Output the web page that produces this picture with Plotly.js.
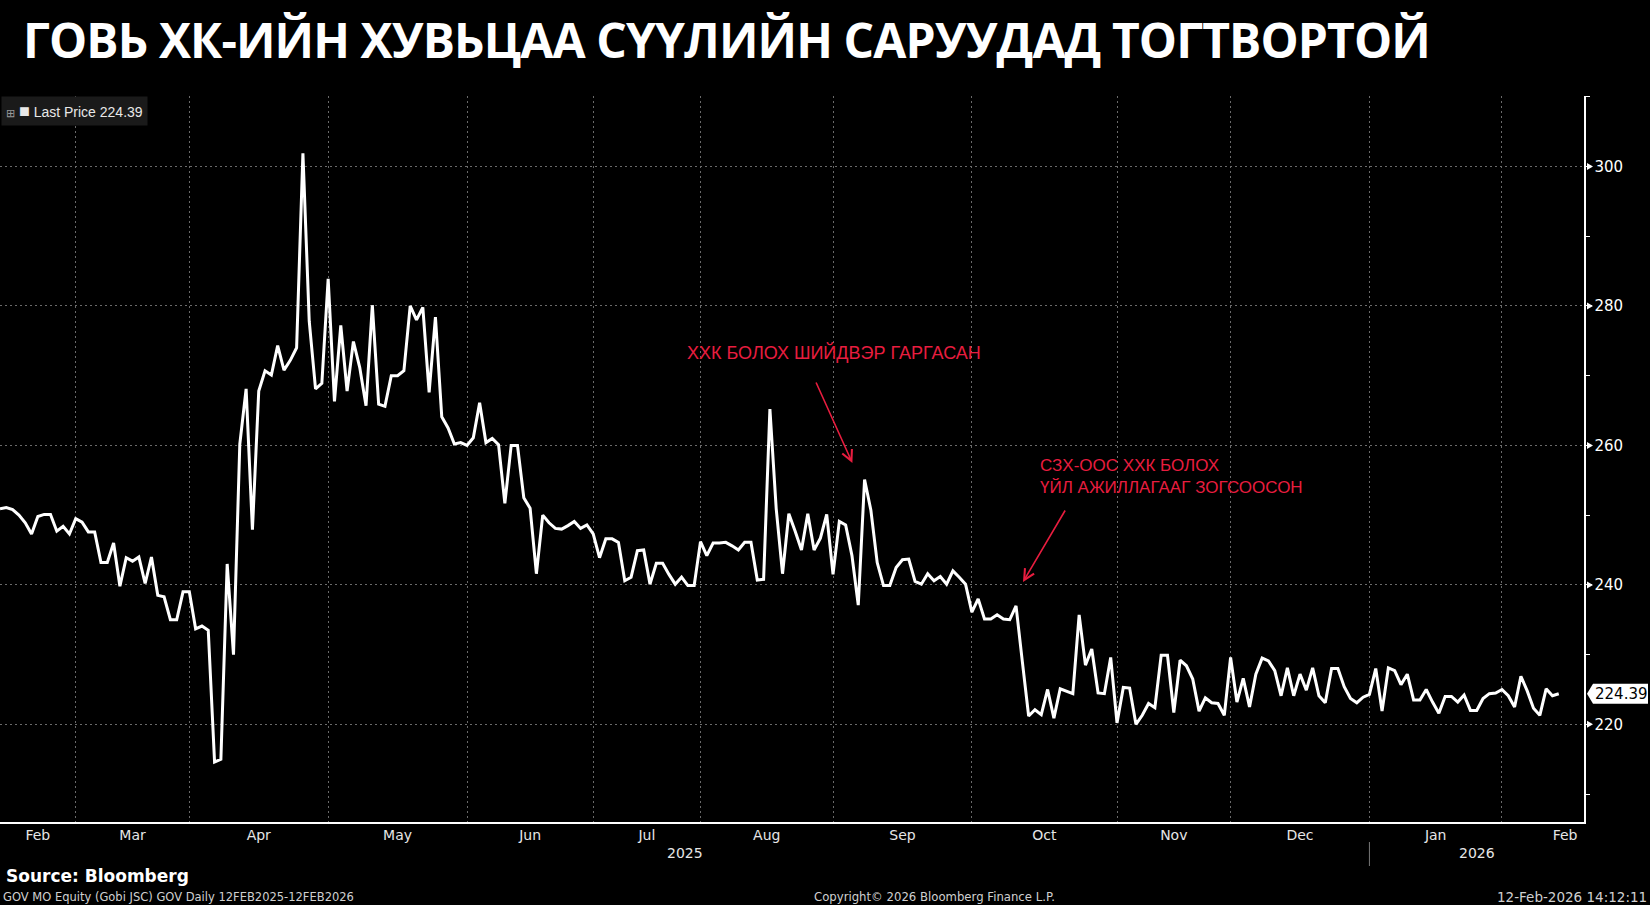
<!DOCTYPE html>
<html>
<head>
<meta charset="utf-8">
<script src="https://cdn.plot.ly/plotly-3.0.1.min.js"></script>
<style>
  html, body { margin: 0; padding: 0; background: #000; }
  #chart { width: 1650px; height: 905px; }
  #chart .gtitle { letter-spacing: -0.9px; }
</style>
</head>
<body>
<div id="chart"></div>
<script>
// ---- data (GOV MO Equity, daily last price, one value per trading session) ----
const prices = [
  250.9, 251.1, 250.8, 250.0, 248.9, 247.3, 249.8, 250.1, 250.1, 247.7,
  248.4, 247.3, 249.5, 249.0, 247.6, 247.6, 243.2, 243.2, 246.0, 239.8,
  243.9, 243.4, 244.0, 240.2, 244.0, 238.5, 238.3, 235.0, 235.0, 239.0,
  239.0, 233.7, 234.1, 233.5, 214.6, 215.0, 243.0, 230.0, 260.2, 268.1,
  247.9, 267.8, 270.7, 270.1, 274.3, 270.8, 272.2, 274.0, 301.9, 277.8,
  268.1, 268.9, 283.9,
  266.3, 277.2, 267.8, 274.9, 271.2, 265.7, 280.1, 265.9, 265.6, 270.0,
  270.0, 270.7, 280.0, 278.0, 279.8, 267.6, 278.4, 264.1, 262.5, 260.2,
  260.4, 260.0, 261.1, 266.1, 260.4, 261.0, 260.1, 251.7, 260.0, 260.0,
  252.5, 251.0, 241.6, 250.0, 248.9, 248.1, 248.0, 248.5, 249.1, 248.1,
  248.6, 247.3, 243.9, 246.6, 246.6, 246.1, 240.6, 241.1, 244.9, 245.0,
  240.1,
  243.1, 243.1, 241.5, 240.1, 241.1, 239.9, 239.9, 246.2, 244.2, 246.0,
  246.0, 246.1, 245.6, 245.0, 246.1, 246.1, 240.7, 240.8, 265.2, 250.9,
  241.6, 250.2, 247.7, 245.0, 250.2, 245.0, 246.7, 250.1, 241.5, 249.1,
  248.6, 244.2, 237.1, 255.1, 250.7, 243.2, 239.9, 239.9, 242.5, 243.6,
  243.7, 240.5, 240.1, 241.6, 240.6, 241.2, 240.1, 242.0, 241.1, 240.1,
  236.1, 238.0, 235.1, 235.1, 235.7, 235.1, 235.0, 237.0, 229.0, 221.2,
  222.1, 221.4, 225.0, 220.9, 225.1, 224.8, 224.4, 235.7, 228.5, 230.8,
  224.5, 224.4, 229.6, 220.2,
  225.3, 225.2, 220.0, 221.3, 223.0, 222.4, 229.9, 229.9, 221.7, 229.2,
  228.4, 226.5, 221.9, 223.8, 223.1, 223.0, 221.3, 229.6,
  223.2, 226.6, 222.5, 227.2, 229.5, 229.1, 227.7, 224.1, 228.1, 224.1,
  227.2, 224.9, 228.1, 224.1, 223.1, 228.0, 228.0, 225.4, 223.7, 223.1,
  223.9, 224.3,
  228.0, 221.9, 228.1, 227.7, 225.7, 227.2, 223.5, 223.5, 225.0, 223.2,
  221.6, 224.0, 224.0, 223.2, 224.2, 222.0, 222.0, 223.7, 224.4, 224.5,
  225.0,
  224.1, 222.5, 226.9, 224.8, 222.3, 221.3, 225.1, 224.1, 224.39
];
// trading-session number of each price
const sessions = prices.map((_, i) => i);

// month labels (centred in each month) and month starts (session numbers)
const monthNames   = ['Feb', 'Mar', 'Apr', 'May', 'Jun', 'Jul', 'Aug', 'Sep', 'Oct', 'Nov', 'Dec', 'Jan', 'Feb'];
const monthLabelAt = [6, 21, 41, 63, 84, 102.5, 121.5, 143, 165.5, 186, 206, 227.5, 248];
const monthStartAt = [12, 30, 52, 74, 94, 111, 132, 154, 177, 195, 217, 238];
const yearNames    = ['2025', '2026'];
const yearLabelAt  = [108.5, 234];
const yearBreakAt  = [217];
const yTicks       = [220, 240, 260, 280, 300];

const titleText   = 'ГОВЬ ХК-ИЙН ХУВЬЦАА СҮҮЛИЙН САРУУДАД ТОГТВОРТОЙ';
const note1       = 'ХХК БОЛОХ ШИЙДВЭР ГАРГАСАН';
const note2       = 'СЗХ-ООС ХХК БОЛОХ<br>ҮЙЛ АЖИЛЛАГААГ ЗОГСООСОН';
const seriesName  = 'Last Price';
const sourceText  = 'Source: Bloomberg';
const footLeft    = 'GOV MO Equity (Gobi JSC) GOV Daily 12FEB2025-12FEB2026';
const footMid     = 'Copyright© 2026 Bloomberg Finance L.P.';
const footRight   = '12-Feb-2026 14:12:11';

// ---- layout helpers ----
const W = 1650, H = 905;
const M = {l: 0, r: 66, t: 96, b: 83};
const PW = W - M.l - M.r, PH = H - M.t - M.b;
const px = X => (X - M.l) / PW;
const py = Y => (H - M.b - Y) / PH;

const last = prices[prices.length - 1];
const RED = '#e81d3f';
const GRID = '#6a6a6a';

const trace = {
  x: sessions, y: prices, type: 'scatter', mode: 'lines',
  name: seriesName,
  line: {color: '#ffffff', width: 3},
  hoverinfo: 'skip'
};

const shapes = [];
yearBreakAt.forEach(v => shapes.push({
  type: 'line', xref: 'x', yref: 'paper', x0: v, x1: v, y0: py(842), y1: py(866),
  line: {color: '#777', width: 1}
}));
yTicks.forEach(v => shapes.push({
  type: 'path', xref: 'paper', yref: 'y', xsizemode: 'pixel', ysizemode: 'pixel',
  xanchor: 1, yanchor: v, path: 'M 3,-3.5 L 9,0 L 3,3.5 Z',
  fillcolor: '#fff', line: {width: 0}
}));
shapes.push({
  type: 'path', xref: 'paper', yref: 'y', xsizemode: 'pixel', ysizemode: 'pixel',
  xanchor: 1, yanchor: last, path: 'M 3,0 L 9,10 L 64,10 L 64,-10 L 9,-10 Z',
  fillcolor: '#fff', line: {width: 0}
});

const annotations = [
  {
    xref: 'paper', yref: 'paper', x: px(1), y: py(96), xanchor: 'left', yanchor: 'top',
    text: '<span style="font-size:11px;color:#9a9a9a">⊞</span> <span style="font-size:18px">■</span> ' + seriesName + ' ' + last.toFixed(2),
    showarrow: false, bgcolor: '#1a1a1a', borderpad: 4,
    font: {family: 'Liberation Sans, Arial, sans-serif', size: 14, color: '#e8e8e8'}
  },
  {
    xref: 'paper', yref: 'paper', x: px(834), y: py(352.5), xanchor: 'center', yanchor: 'middle',
    text: note1, showarrow: false,
    font: {family: 'Liberation Sans, Arial, sans-serif', size: 18, color: RED}
  },
  {
    xref: 'paper', yref: 'paper', x: px(852.4), y: py(463), text: '', showarrow: true,
    ax: -37, ay: -82, arrowhead: 5, arrowsize: 1.3, arrowwidth: 1.6, arrowcolor: RED, standoff: 0
  },
  {
    xref: 'paper', yref: 'paper', x: px(1038), y: py(477), xanchor: 'left', yanchor: 'middle',
    text: note2, align: 'left', showarrow: false,
    font: {family: 'Liberation Sans, Arial, sans-serif', size: 17, color: RED}
  },
  {
    xref: 'paper', yref: 'paper', x: px(1023), y: py(582), text: '', showarrow: true,
    ax: 43, ay: -73, arrowhead: 5, arrowsize: 1.3, arrowwidth: 1.6, arrowcolor: RED, standoff: 0
  },
  {
    xref: 'paper', yref: 'y', x: 1, y: last, xanchor: 'left', yanchor: 'middle', xshift: 9,
    text: last.toFixed(2), showarrow: false,
    font: {family: 'DejaVu Sans, sans-serif', size: 15, color: '#000'}
  },
  {
    xref: 'paper', yref: 'paper', x: px(4), y: py(876), xanchor: 'left', yanchor: 'middle',
    text: '<b>' + sourceText + '</b>', showarrow: false,
    font: {family: 'DejaVu Sans, sans-serif', size: 17, color: '#fff'}
  },
  {
    xref: 'paper', yref: 'paper', x: px(1), y: py(897), xanchor: 'left', yanchor: 'middle',
    text: footLeft, showarrow: false,
    font: {family: 'DejaVu Sans, sans-serif', size: 11.5, color: '#d0d0d0'}
  },
  {
    xref: 'paper', yref: 'paper', x: px(934), y: py(897), xanchor: 'center', yanchor: 'middle',
    text: footMid, showarrow: false,
    font: {family: 'DejaVu Sans, sans-serif', size: 11.7, color: '#d0d0d0'}
  },
  {
    xref: 'paper', yref: 'paper', x: px(1649), y: py(897), xanchor: 'right', yanchor: 'middle',
    text: footRight, showarrow: false,
    font: {family: 'DejaVu Sans, sans-serif', size: 13.5, color: '#d0d0d0'}
  }
];
yearNames.forEach((t, i) => annotations.push({
  xref: 'x', yref: 'paper', x: yearLabelAt[i], y: py(853), xanchor: 'center', yanchor: 'middle',
  text: t, showarrow: false,
  font: {family: 'DejaVu Sans, sans-serif', size: 14, color: '#e6e6e6'}
}));

const layout = {
  width: W, height: H,
  paper_bgcolor: '#000', plot_bgcolor: '#000',
  margin: {l: M.l, r: M.r, t: M.t, b: M.b, pad: 0},
  showlegend: false,
  title: {
    text: '<b>' + titleText + '</b>',
    xref: 'container', yref: 'container', x: 23 / W, xanchor: 'left',
    y: 1 - 41 / H, yanchor: 'middle',
    font: {family: 'Open Sans, sans-serif', size: 48, color: '#fff', weight: 800}
  },
  xaxis: {
    range: [0, 251], showline: true, linecolor: '#fff', linewidth: 1.5,
    tickmode: 'array', tickvals: monthLabelAt, ticktext: monthNames,
    ticks: '', showgrid: false, zeroline: false,
    tickfont: {family: 'DejaVu Sans, sans-serif', size: 14, color: '#e6e6e6'},
    minor: {tickmode: 'array', tickvals: monthStartAt, showgrid: true,
            gridcolor: GRID, gridwidth: 1, griddash: '2px,3px', ticks: ''},
    fixedrange: true
  },
  yaxis: {
    side: 'right', range: [206, 310.1], showline: true, linecolor: '#fff', linewidth: 1.5,
    tickmode: 'linear', tick0: 0, dtick: 20,
    ticks: 'outside', ticklen: 6, tickwidth: 1, tickcolor: '#fff',
    showgrid: true, gridcolor: GRID, gridwidth: 1, griddash: '2px,3px', zeroline: false,
    tickfont: {family: 'DejaVu Sans, sans-serif', size: 15, color: '#fff'},
    minor: {tick0: 0, dtick: 10, ticks: 'outside', ticklen: 4, tickwidth: 1, tickcolor: '#fff', showgrid: false},
    fixedrange: true
  },
  shapes: shapes,
  annotations: annotations
};

Plotly.newPlot('chart', [trace], layout, {displayModeBar: false, staticPlot: true});
</script>
</body>
</html>
